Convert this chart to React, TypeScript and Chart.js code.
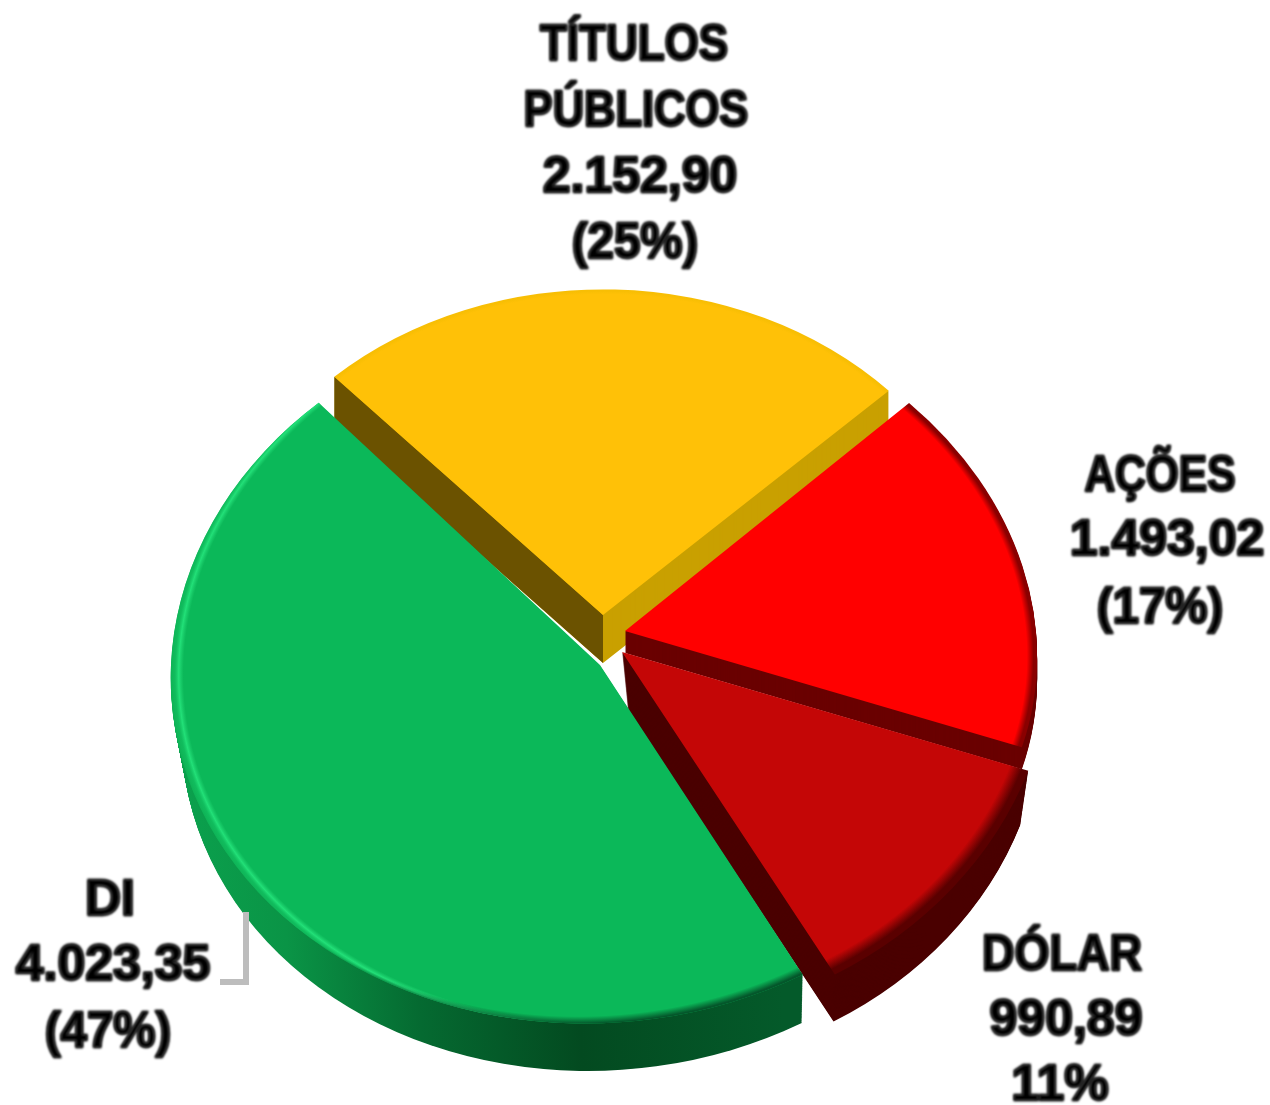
import React, { useEffect, useRef } from "react";
import { Chart, registerables } from "chart.js";

Chart.register(...registerables);

const categories = ["TÍTULOS PÚBLICOS", "AÇÕES", "DÓLAR", "DI"];
const values = [2152.9, 1493.02, 990.89, 4023.35];
const valueLabels = ["2.152,90", "1.493,02", "990,89", "4.023,35"];
const percentLabels = ["(25%)", "(17%)", "11%", "(47%)"];

const W = 1270;
const H = 1105;
const CX = 610;
const CY = 640;

const apexShift = [[-7, -25], [15, -9], [12, 12], [-10, 25]];
const radii = [402, 420, 430, 440];
// per-slice plane projection, standing in for the perspective of the 3D view
const planeSx = [0.98, 0.98, 1, 0.975];
const planeShear = [0, 0.05, -0.01, -0.035];
const planeTilt = [0, 0.02, 0, 0];
const planeK = [0.81, 0.81, 0.868, 0.815];
const wallDepth = [48, 22, 58, 54];
const wallShrink = [0, 0, 0.25, 0.15];
const wallDrift = [0, 0, 0.1, 0.05];
const topColors = ["#FFC107", "#FF0000", "#C40606", "#0BB859"];
const wallColors = ["#C9A000", "#6A0000", "#4A0000", "#04552A"];
const rimColors = ["#F8BE04", "#8A0000", "#5A0000", "#22D672"];
const rimStart = [0.985, 0.975, 0.955, 0.97];

const labelBoxes = [
  { lines: [["TÍTULOS", 634, 60, 0.88], ["PÚBLICOS", 636, 126, 0.87]], value: [640, 192], pct: [635, 258, 0.95] },
  { lines: [["AÇÕES", 1160, 491, 0.85]], value: [1167, 555], pct: [1160, 623, 0.95] },
  { lines: [["DÓLAR", 1062, 970, 0.9]], value: [1066, 1035], pct: [1060, 1100] },
  { lines: [["DI", 110, 915, 1]], value: [113, 980], pct: [108, 1047, 0.95] },
];

function drawAs(el: any, ctx: CanvasRenderingContext2D, bg: any) {
  const saved = el.options;
  el.options = { ...saved, backgroundColor: bg, borderWidth: 0 };
  el.draw(ctx);
  el.options = saved;
}

function rimGradient(ctx: CanvasRenderingContext2D, el: any, base: string, rim: string, from: number) {
  const r = el.outerRadius;
  const g = ctx.createRadialGradient(el.x, el.y, 0, el.x, el.y, r);
  g.addColorStop(0, base);
  g.addColorStop(from, base);
  g.addColorStop(1 - (1 - from) * 0.35, rim);
  g.addColorStop(1, rim);
  return g;
}

// A crescent of colour on one side of the rim: concentric stops about a shifted centre.
function crescent(ctx: CanvasRenderingContext2D, el: any, sx: number, sy: number, spec: [number, string][]) {
  const r = el.outerRadius;
  const max = r + 24;
  const g = ctx.createRadialGradient(el.x + sx, el.y + sy, 0, el.x + sx, el.y + sy, max);
  g.addColorStop(0, spec[0][1]);
  spec.forEach(([d, c]) => g.addColorStop((r + d) / max, c));
  g.addColorStop(1, spec[spec.length - 1][1]);
  return g;
}

const pie3d = {
  id: "pie3d",
  afterDatasetUpdate(chart: any) {
    chart.getDatasetMeta(0).data.forEach((el: any, i: number) => {
      el.outerRadius = radii[i];
    });
  },
  beforeDatasetDraw(chart: any) {
    const ctx: CanvasRenderingContext2D = chart.ctx;
    const arcs = chart.getDatasetMeta(0).data;
    ctx.save();
    arcs.forEach((el: any, i: number) => {
      const sx = planeSx[i];
      const sh = planeShear[i];
      const ty = planeTilt[i];
      const k = planeK[i];
      const ax = CX + apexShift[i][0];
      const ay = CY + apexShift[i][1];
      const toPlane = (d: number) => {
        ctx.setTransform(
          sx, ty, sh, k,
          ax - sx * el.x - sh * el.y + d * wallDrift[i],
          ay - k * el.y - ty * el.x + d,
        );
      };
      let wall: any = wallColors[i];
      if (i === 3) {
        ctx.setTransform(1, 0, 0, 1, 0, 0);
        const g = ctx.createLinearGradient(170, 0, 810, 0);
        g.addColorStop(0, "#0BA24E");
        g.addColorStop(0.2, "#0A9446");
        g.addColorStop(0.42, "#056A31");
        g.addColorStop(0.68, "#034A20");
        g.addColorStop(1, "#045A2A");
        wall = g;
      }
      const fullR = el.outerRadius;
      for (let d = wallDepth[i]; d >= 1; d -= 1) {
        el.outerRadius = fullR - d * wallShrink[i];
        toPlane(d);
        drawAs(el, ctx, wall);
      }
      el.outerRadius = fullR;
      if (i === 0) {
        // the cut face on the left of this slice is in shadow
        const ex = el.x + fullR * Math.cos(el.startAngle);
        const ey = el.y + fullR * Math.sin(el.startAngle);
        toPlane(0);
        ctx.fillStyle = "#6B5200";
        ctx.beginPath();
        ctx.moveTo(el.x, el.y);
        ctx.lineTo(ex, ey);
        ctx.lineTo(ex, ey + wallDepth[i] / k);
        ctx.lineTo(el.x, el.y + wallDepth[i] / k);
        ctx.closePath();
        ctx.fill();
      }
      toPlane(0);
      if (i === 3) {
        drawAs(el, ctx, topColors[i]);
        drawAs(el, ctx, crescent(ctx, el, 16, -4, [
          [3, "rgba(34,214,114,0)"],
          [8, "rgba(34,224,120,1)"],
          [12, "rgba(20,190,95,0.6)"],
          [18, "rgba(14,170,80,0.8)"],
        ]));
        drawAs(el, ctx, crescent(ctx, el, -8, -14, [
          [5, "rgba(3,70,35,0)"],
          [14, "rgba(3,70,35,0.85)"],
        ]));
      } else {
        drawAs(el, ctx, rimGradient(ctx, el, topColors[i], rimColors[i], rimStart[i]));
      }
    });
    ctx.restore();
    return false;
  },
  afterDraw(chart: any) {
    const ctx: CanvasRenderingContext2D = chart.ctx;
    ctx.save();
    ctx.setTransform(1, 0, 0, 1, 0, 0);
    ctx.strokeStyle = "#BDBDBD";
    ctx.lineWidth = 6;
    ctx.beginPath();
    ctx.moveTo(246, 912);
    ctx.lineTo(246, 982);
    ctx.lineTo(220, 982);
    ctx.stroke();

    ctx.font = "bold 50px 'Liberation Sans'";
    ctx.textAlign = "center";
    ctx.textBaseline = "alphabetic";
    ctx.fillStyle = "#000000";
    ctx.strokeStyle = "rgba(0,0,0,0.8)";
    ctx.lineWidth = 2.8;
    ctx.lineJoin = "round";
    ctx.filter = "blur(0.8px)";
    const put = (t: string, x: number, y: number, squeeze = 1) => {
      const w = ctx.measureText(t).width * squeeze;
      ctx.fillText(t, x, y, w);
      ctx.strokeText(t, x, y, w);
    };
    labelBoxes.forEach((b, i) => {
      b.lines.forEach((l: any) => put(l[0], l[1], l[2], l[3]));
      put(valueLabels[i], b.value[0], b.value[1]);
      put(percentLabels[i], b.pct[0], b.pct[1], b.pct[2]);
    });
    ctx.restore();
  },
};

export default function App() {
  const ref = useRef<HTMLCanvasElement>(null);
  useEffect(() => {
    document.body.style.margin = "0";
    document.body.style.background = "#fff";
    const chart = new Chart(ref.current as HTMLCanvasElement, {
      type: "pie",
      data: {
        labels: categories,
        datasets: [{ data: values, backgroundColor: topColors, borderWidth: 0 }],
      },
      options: {
        responsive: false,
        animation: false,
        rotation: -43,
        radius: 420,
        layout: { padding: { left: 0, right: W - 2 * CX, top: 2 * CY - H, bottom: 0 } },
        plugins: { legend: { display: false }, tooltip: { enabled: false } },
      },
      plugins: [pie3d],
    } as any);
    return () => chart.destroy();
  }, []);
  return <canvas ref={ref} width={W} height={H} style={{ display: "block", width: W, height: H }} />;
}
